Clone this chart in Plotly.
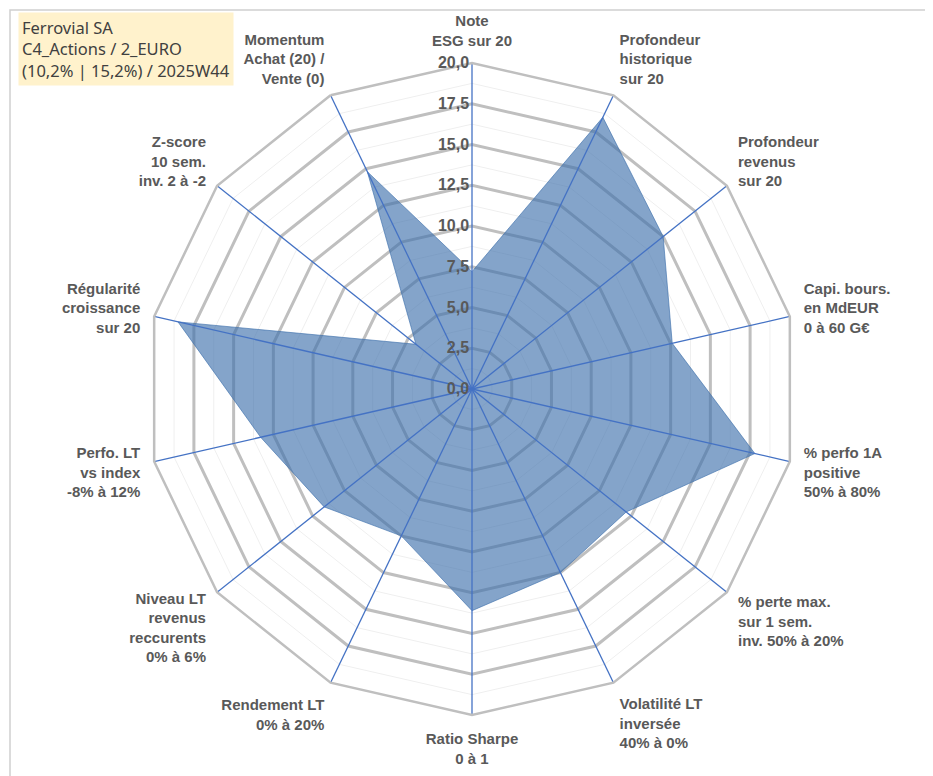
import plotly.graph_objects as go

# axes of the radar (clockwise from top)
categories = [
    "Note<br>ESG sur 20",
    "Profondeur<br>historique<br>sur 20",
    "Profondeur<br>revenus<br>sur 20",
    "Capi. bours.<br>en MdEUR<br>0 à 60 G€",
    "% perfo 1A<br>positive<br>50% à 80%",
    "% perte max.<br>sur 1 sem.<br>inv. 50% à 20%",
    "Volatilité LT<br>inversée<br>40% à 0%",
    "Ratio Sharpe<br>0 à 1",
    "Rendement LT<br>0% à 20%",
    "Niveau LT<br>revenus<br>reccurents<br>0% à 6%",
    "Perfo. LT<br>vs index<br>-8% à 12%",
    "Régularité<br>croissance<br>sur 20",
    "Z-score<br>10 sem.<br>inv. 2 à -2",
    "Momentum<br>Achat (20) /<br>Vente (0)",
]
scores = [7.2, 18.5, 15.0, 12.6, 17.8, 12.1, 12.5, 13.6, 10.0, 11.6, 13.3, 18.5, 4.4, 14.8]
major_ticks = [0, 2.5, 5, 7.5, 10, 12.5, 15, 17.5, 20]
minor_levels = [1.25, 3.75, 6.25, 8.75, 11.25, 13.75, 16.25, 18.75]

title_lines = ["Ferrovial SA", "C4_Actions / 2_EURO", "(10,2% | 15,2%) / 2025W44"]

keys = [str(i) for i in range(len(categories))]
label_font = dict(family="Liberation Sans", size=15, color="#595959")

W, H = 933, 776
ml, mr, mt, mb = 138, 143, 55, 69
pw, ph = W - ml - mr, H - mt - mb

fig = go.Figure()

# faint minor rings
for lv in minor_levels:
    fig.add_trace(go.Scatterpolar(
        r=[lv] * (len(keys) + 1), theta=keys + keys[:1], mode="lines",
        line=dict(color="#EFEFEF", width=1), hoverinfo="skip", showlegend=False))

fig.add_trace(go.Scatterpolar(
    r=scores + scores[:1], theta=keys + keys[:1], mode="lines",
    fill="toself", fillcolor="rgba(62,112,172,0.64)",
    line=dict(color="rgba(62,112,172,0.64)", width=1),
    showlegend=False, name="Ferrovial SA"))

# blue spokes over the fill
for k in keys:
    fig.add_trace(go.Scatterpolar(
        r=[0, 20], theta=[k, k], mode="lines",
        line=dict(color="#4472C4", width=1.3), hoverinfo="skip", showlegend=False))

fig.update_layout(
    width=W, height=H,
    margin=dict(l=ml, r=mr, t=mt, b=mb),
    paper_bgcolor="white", plot_bgcolor="white",
    separators=",.",
    polar=dict(
        gridshape="linear",
        bgcolor="white",
        radialaxis=dict(
            range=[0, 20], tickvals=major_ticks, tickformat=".1f",
            angle=90, tickangle=90, side="counterclockwise",
            showline=False, gridcolor="#BFBFBF", gridwidth=2.5,
            ticks="", tickfont=dict(family="Liberation Sans", size=16, color="#595959", weight="bold"),
            layer="above traces",
        ),
        angularaxis=dict(
            type="category", categoryarray=keys,
            tickvals=keys, ticktext=["<b>" + c + "</b>" for c in categories],
            direction="clockwise", rotation=90,
            showgrid=False, linecolor="#BFBFBF", linewidth=2.5,
            ticks="outside", ticklen=10, tickcolor="rgba(0,0,0,0)",
            tickfont=label_font,
        ),
    ),
    annotations=[dict(
        text="<br>".join(title_lines), xref="paper", yref="paper",
        x=(10 - ml) / pw, y=1 + (mt - 4) / ph, xanchor="left", yanchor="top", align="left",
        showarrow=False, bgcolor="#FFF2CC",
        font=dict(family="Noto Sans", size=16.5, color="#404040"),
        borderpad=3,
    )],
    shapes=[dict(type="rect", xref="paper", yref="paper",
                 x0=(2 - ml) / pw, x1=1 + (mr - 3) / pw,
                 y0=-(mb - 3) / ph, y1=1 + (mt - 2) / ph,
                 line=dict(color="#D0D0D0", width=1.5))],
)

fig.write_html("out.html")
